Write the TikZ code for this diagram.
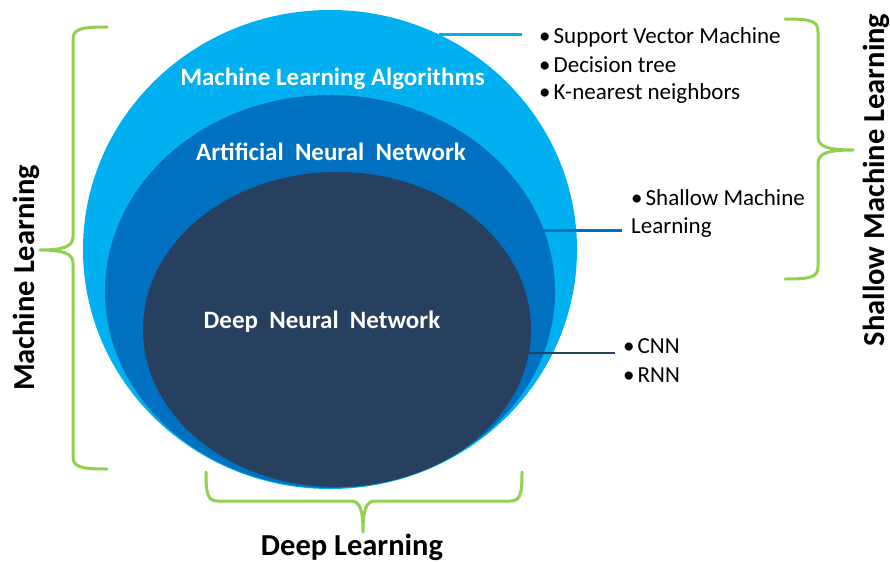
\documentclass[tikz,border=0pt]{standalone}
\usepackage{fontspec}
\setmainfont{Carlito}
\usetikzlibrary{shapes.geometric}
\definecolor{lblue}{HTML}{00B0F0}
\definecolor{mblue}{HTML}{0070C0}
\definecolor{dblue}{HTML}{27405F}
\definecolor{bgreen}{HTML}{92D050}
\tikzset{
  blob/.style={ellipse, inner sep=0pt, draw=none},
  inlabel/.style={text=white, font=\fontsize{25}{29}\selectfont\bfseries, inner sep=0pt, anchor=base},
  bullets/.style={font=\fontsize{23}{28}\selectfont, inner sep=0pt, anchor=base west, align=left},
  side/.style={font=\fontsize{30.5}{34}\selectfont\bfseries, inner sep=0pt, anchor=base},
  brace/.style={draw=bgreen, line width=3pt, line cap=round, line join=round},
  link/.style={line width=2.8pt}
}
\begin{document}
\begin{tikzpicture}[x=1pt,y=-1pt]
\useasboundingbox (0,0) rectangle (890,562);
% ellipses
\node[blob, fill=lblue, minimum width=494pt, minimum height=479pt] (outer) at (330,249.5) {};
\node[blob, fill=mblue, minimum width=450pt, minimum height=393pt] (middle) at (330,291.5) {};
\node[blob, fill=dblue, minimum width=388pt, minimum height=315pt] (inner) at (337,329.5) {};
% labels in ellipses
\node[inlabel] (mla) at (332.5,85) {Machine Learning Algorithms};
\node[inlabel] (ann) at (331,160) {Artificial\ \ Neural\ \ Network};
\node[inlabel] (dnn) at (322,328) {Deep\ \ Neural\ \ Network};
% connector end points
\coordinate (ea) at (522,0);
\coordinate (eb) at (622,0);
\coordinate (ec) at (615,0);
\draw[link, draw=lblue] (outer.63.4) -- (outer.63.4 -| ea);
\draw[link, draw=mblue] (middle.16.9) -- (middle.16.9 -| eb);
\draw[link, draw=dblue] (inner.-7.9) -- (inner.-7.9 -| ec);
% bullet lists
\node[bullets] (svm) at (539,43) {•\hspace{3pt}Support Vector Machine};
\node[bullets] (dt) at (539,72) {•\hspace{3pt}Decision tree};
\node[bullets] (knn) at (539,99) {•\hspace{3pt}K-nearest neighbors};
\node[bullets] (sml) at (631,205) {•\hspace{3pt}Shallow Machine};
\node[bullets] (sml2) at (631,233) {Learning};
\node[bullets] (cnn) at (623,353) {•\hspace{3pt}CNN};
\node[bullets] (rnn) at (623,382) {•\hspace{3pt}RNN};
% braces
\draw[brace] (107,27) .. controls (80,27) and (73,29) .. (73,40) -- (73,237)
  .. controls (73,247) and (62,250) .. (40,250)
  .. controls (62,250) and (73,253) .. (73,263) -- (73,456)
  .. controls (73,467) and (80,469) .. (107,469);
\draw[brace] (785,19) .. controls (812,19) and (818,21) .. (818,32) -- (818,137)
  .. controls (818,147) and (829,150) .. (853,150)
  .. controls (829,150) and (818,153) .. (818,163) -- (818,266)
  .. controls (818,277) and (812,279) .. (785,279);
\draw[brace] (206,472) .. controls (206,495) and (208,501) .. (218,501) -- (351,501)
  .. controls (360,501) and (363,510) .. (363,532)
  .. controls (363,510) and (366,501) .. (375,501) -- (510,501)
  .. controls (520,501) and (522,495) .. (522,472);
% side labels
\node[side, rotate=90] (ml) at (34,278) {Machine Learning};
\node[side, rotate=90] (shml) at (884,180) {Shallow Machine Learning};
\node[side] (dl) at (352,555) {Deep Learning};
\end{tikzpicture}
\end{document}
